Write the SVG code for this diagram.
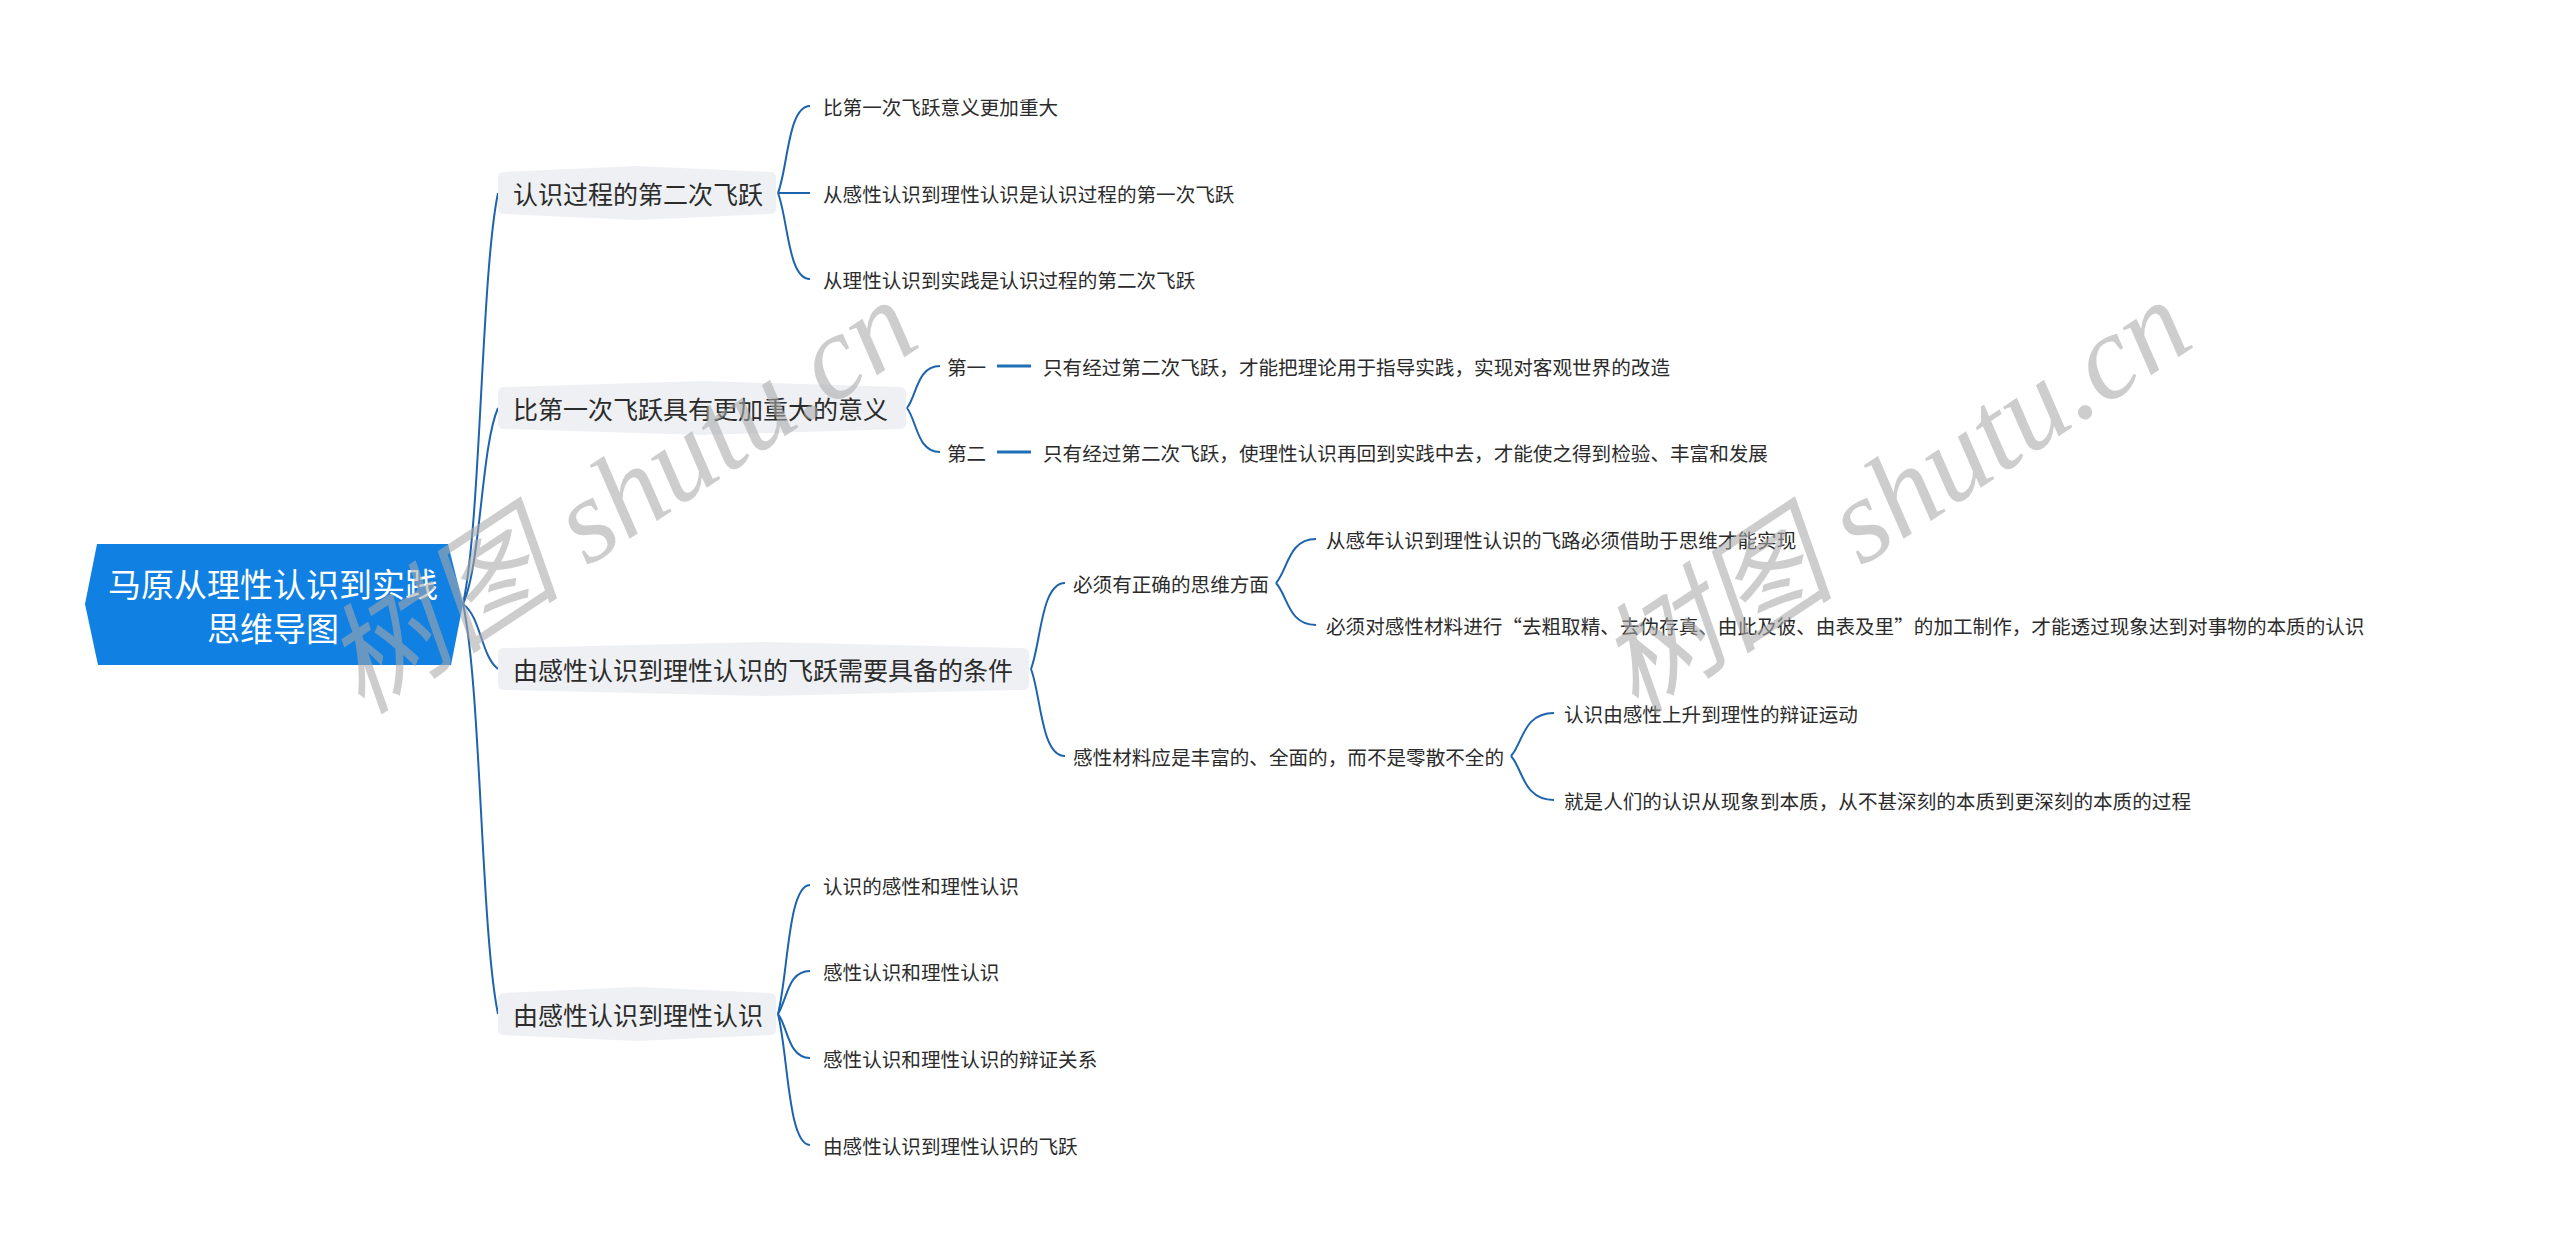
<svg xmlns="http://www.w3.org/2000/svg" width="2560" height="1251" viewBox="0 0 2560 1251">
<style>
.bg{fill:#ffffff}
.root{fill:#1080e2}
.rt{font-family:"Noto Sans CJK SC","Noto Sans",sans-serif;font-size:33px;fill:#ffffff;text-anchor:middle;dominant-baseline:central}
.l1{fill:#eef0f3}
.t1{font-family:"Noto Sans CJK SC","Noto Sans",sans-serif;font-size:25px;fill:#2b2b2b;dominant-baseline:central}
.t2{font-family:"Noto Sans CJK SC","Noto Sans",sans-serif;font-size:19.6px;fill:#2b2b2b;dominant-baseline:central}
.c{fill:none;stroke:#1d64ad;stroke-width:2}
.cb{fill:none;stroke:#1d6fb8;stroke-width:3}
.wm{font-family:"Liberation Serif","Noto Sans CJK SC",serif;font-style:italic;font-size:120px;fill:#a8a8a8;fill-opacity:0.58}
</style>
<rect class="bg" x="0" y="0" width="2560" height="1251"/>

<g id="connectors">
  <path class="c" d="M463,604 C481,522 481,275 498,193"/>
  <path class="c" d="M463,604 C481,565 481,447 498,408"/>
  <path class="c" d="M463,604 C481,617 481,656 498,669"/>
  <path class="c" d="M463,604 C481,686 481,932 498,1014"/>
  <path class="c" d="M778,193 C788,167 788,106 810,106"/>
  <path class="c" d="M778,193 L810,193"/>
  <path class="c" d="M778,193 C788,219 788,279 810,279"/>
  <path class="c" d="M907,408 C917,395 917,366 940,366"/>
  <path class="c" d="M907,408 C917,421 917,452 940,452"/>
  <line class="cb" x1="997" y1="366" x2="1031" y2="366"/>
  <line class="cb" x1="997" y1="452" x2="1031" y2="452"/>
  <path class="c" d="M1031,669 C1041,643 1041,583 1065,583"/>
  <path class="c" d="M1031,669 C1041,695 1041,756 1065,756"/>
  <path class="c" d="M1276,583 C1288,570 1288,539 1316,539"/>
  <path class="c" d="M1276,583 C1288,596 1288,625 1316,625"/>
  <path class="c" d="M1511,756 C1523,743 1523,713 1554,713"/>
  <path class="c" d="M1511,756 C1523,769 1523,800 1554,800"/>
  <path class="c" d="M778,1014 C788,975 788,885 810,885"/>
  <path class="c" d="M778,1014 C788,997 788,971 810,971"/>
  <path class="c" d="M778,1014 C788,1027 788,1058 810,1058"/>
  <path class="c" d="M778,1014 C788,1053 788,1145 810,1145"/>
</g>

<g id="root">
  <polygon class="root" points="97,544 448,544 463,604 451,665 98,665 85,604"/>
  <text class="rt" x="273" y="583">马原从理性认识到实践</text>
  <text class="rt" x="273" y="627">思维导图</text>
</g>

<g id="n1">
  <path class="l1" d="M504,172 L637,166 L770,172 Q776,172 776,178 L776,208 Q776,214 770,214 L637,220 L504,214 Q498,214 498,208 L498,178 Q498,172 504,172 Z"/>
  <text class="t1" x="513" y="193">认识过程的第二次飞跃</text>
</g>
<g id="n1a"><text class="t2" x="823" y="106">比第一次飞跃意义更加重大</text></g>
<g id="n1b"><text class="t2" x="823" y="193">从感性认识到理性认识是认识过程的第一次飞跃</text></g>
<g id="n1c"><text class="t2" x="823" y="279">从理性认识到实践是认识过程的第二次飞跃</text></g>

<g id="n2">
  <path class="l1" d="M504,387 L702,381 L900,387 Q906,387 906,393 L906,423 Q906,429 900,429 L702,435 L504,429 Q498,429 498,423 L498,393 Q498,387 504,387 Z"/>
  <text class="t1" x="513" y="408">比第一次飞跃具有更加重大的意义</text>
</g>
<g id="n2a"><text class="t2" x="947" y="366">第一</text></g>
<g id="n2a1"><text class="t2" x="1043" y="366">只有经过第二次飞跃，才能把理论用于指导实践，实现对客观世界的改造</text></g>
<g id="n2b"><text class="t2" x="947" y="452">第二</text></g>
<g id="n2b1"><text class="t2" x="1043" y="452">只有经过第二次飞跃，使理性认识再回到实践中去，才能使之得到检验、丰富和发展</text></g>

<g id="n3">
  <path class="l1" d="M504,648 L764,642 L1023,648 Q1029,648 1029,654 L1029,684 Q1029,690 1023,690 L764,696 L504,690 Q498,690 498,684 L498,654 Q498,648 504,648 Z"/>
  <text class="t1" x="513" y="669">由感性认识到理性认识的飞跃需要具备的条件</text>
</g>
<g id="n3a"><text class="t2" x="1073" y="583">必须有正确的思维方面</text></g>
<g id="n3a1"><text class="t2" x="1326" y="539">从感年认识到理性认识的飞路必须借助于思维才能实现</text></g>
<g id="n3a2"><text class="t2" x="1326" y="625">必须对感性材料进行“去粗取精、去伪存真、由此及彼、由表及里”的加工制作，才能透过现象达到对事物的本质的认识</text></g>
<g id="n3b"><text class="t2" x="1073" y="756">感性材料应是丰富的、全面的，而不是零散不全的</text></g>
<g id="n3b1"><text class="t2" x="1564" y="713">认识由感性上升到理性的辩证运动</text></g>
<g id="n3b2"><text class="t2" x="1564" y="800">就是人们的认识从现象到本质，从不甚深刻的本质到更深刻的本质的过程</text></g>

<g id="n4">
  <path class="l1" d="M504,993 L637,987 L770,993 Q776,993 776,999 L776,1029 Q776,1035 770,1035 L637,1041 L504,1035 Q498,1035 498,1029 L498,999 Q498,993 504,993 Z"/>
  <text class="t1" x="513" y="1014">由感性认识到理性认识</text>
</g>
<g id="n4a"><text class="t2" x="823" y="885">认识的感性和理性认识</text></g>
<g id="n4b"><text class="t2" x="823" y="971">感性认识和理性认识</text></g>
<g id="n4c"><text class="t2" x="823" y="1058">感性认识和理性认识的辩证关系</text></g>
<g id="n4d"><text class="t2" x="823" y="1145">由感性认识到理性认识的飞跃</text></g>

<g id="watermark">
  <text class="wm" transform="translate(362,716) rotate(-33.5)">树图 shutu.cn</text>
  <text class="wm" transform="translate(1636,716) rotate(-33.5)">树图 shutu.cn</text>
</g>
</svg>
